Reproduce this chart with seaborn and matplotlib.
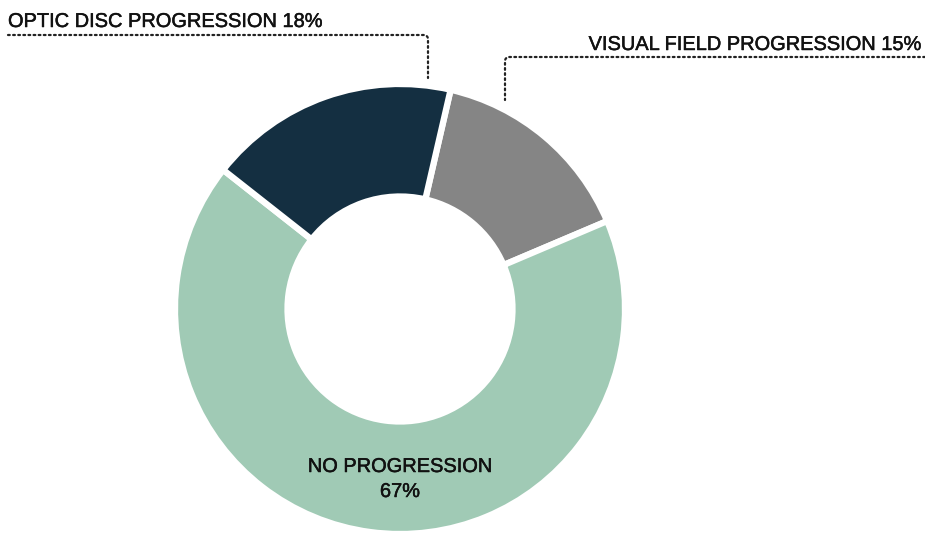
import matplotlib
matplotlib.use("Agg")
import matplotlib.pyplot as plt
import matplotlib.patheffects as pe
import seaborn as sns
import numpy as np

# Share of eyes by progression outcome (clockwise from the top)
categories = ["VISUAL FIELD PROGRESSION", "NO PROGRESSION", "OPTIC DISC PROGRESSION"]
shares = [15, 67, 18]
colors = ["#858585", "#a0cab5", "#142f41"]

sns.set_theme(style="white")
plt.rcParams["font.family"] = ["Liberation Sans", "DejaVu Sans"]

W, H = 925, 533
fig = plt.figure(figsize=(W / 100, H / 100), dpi=100)
ax = fig.add_axes([0, 0, 1, 1])

cx, cy, R = 400, H - 309, 225
wedges, _ = ax.pie(
    shares,
    colors=colors,
    startangle=77,
    counterclock=False,
    center=(cx, cy),
    radius=R,
    explode=[0.02, 0.012, 0.02],
    wedgeprops=dict(width=R * 0.5, edgecolor="white", linewidth=4.5),
    frame=True,
)
ax.set_xlim(0, W)
ax.set_ylim(0, H)
ax.set_aspect("equal")
ax.axis("off")

dot = dict(color="#222222", linewidth=1.6, linestyle=(0, (0.8, 1.5)),
           dash_capstyle="round")


def leader(x_far, y_line, x_down, y_end, r=4):
    # horizontal run, small rounded corner, then a drop towards the ring
    t = np.linspace(0, np.pi / 2, 8)
    s = 1 if x_far < x_down else -1
    xs = [x_far, x_down - s * r] + list(x_down - s * r + s * r * np.sin(t)) + [x_down]
    ys = [y_line, y_line] + list(y_line - r + r * np.cos(t)) + [y_end]
    ax.plot(xs, ys, **dot)


fs = 14.4
heavy = [pe.withStroke(linewidth=0.35, foreground="#111111")]
txt = dict(fontsize=fs, va="baseline", color="#111111", path_effects=heavy)

# Optic disc label, top left
ax.text(8, H - 27, f"{categories[2]} {shares[2]}%", ha="left", **txt)
leader(8, H - 35, 428, H - 78)

# Visual field label, top right
ax.text(921, H - 50, f"{categories[0]} {shares[0]}%", ha="right", **txt)
leader(925, H - 57, 505, H - 100)

# No progression label, inside the ring
ax.text(cx, H - 472, categories[1], ha="center", **txt)
ax.text(cx, H - 497, f"{shares[1]}%", ha="center", **txt)

fig.savefig("out.png", dpi=100, facecolor="white")
